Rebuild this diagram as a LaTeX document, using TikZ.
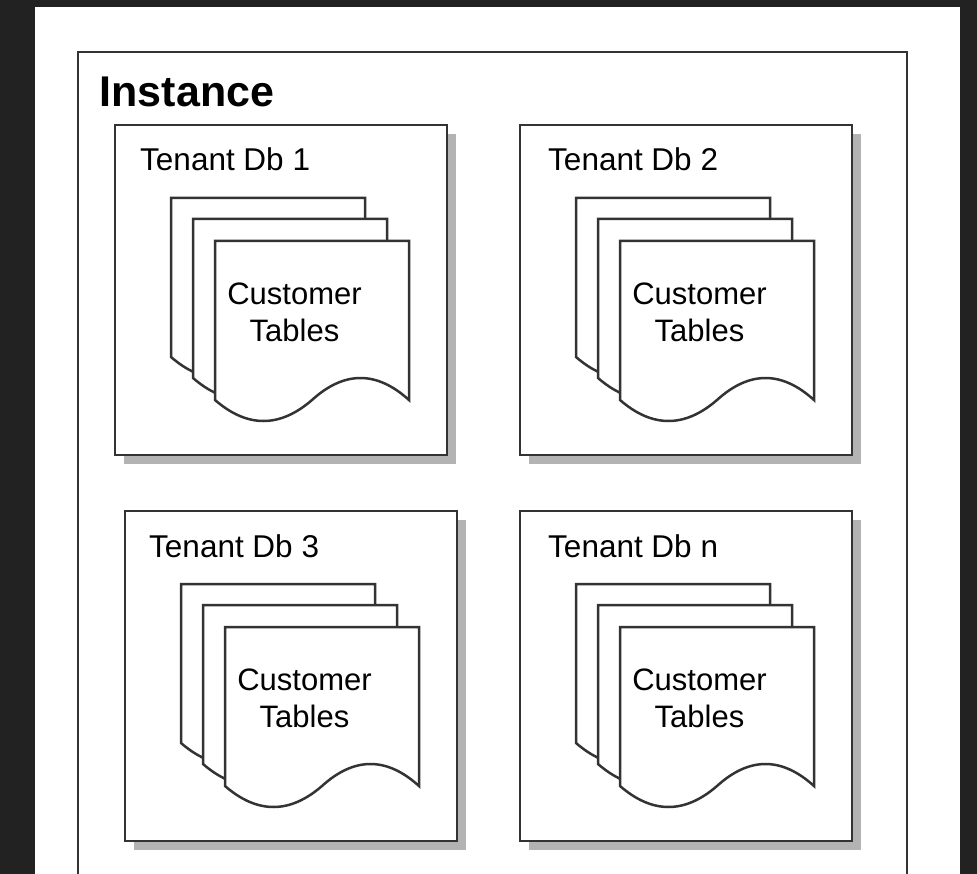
\documentclass[tikz,border=0pt]{standalone}
\usepackage{fontspec}
\setmainfont{Liberation Sans}
\usetikzlibrary{shadows}
\definecolor{bgdark}{HTML}{222222}
\definecolor{linec}{HTML}{333333}
\definecolor{shadowc}{HTML}{B3B3B3}
\tikzset{
  boxstyle/.style={draw=linec, line width=2.5pt, fill=white, rectangle, inner sep=0pt, outer sep=0pt, anchor=north west},
  tenantbox/.style={boxstyle, minimum width=332pt, minimum height=330pt,
    drop shadow={shadow xshift=9pt, shadow yshift=-9pt, fill=shadowc, opacity=1}},
  titletext/.style={font=\bfseries\fontsize{43}{50}\selectfont, anchor=base west, inner sep=0pt},
  tenantlabel/.style={font=\fontsize{31.5}{36}\selectfont, anchor=base west, inner sep=0pt},
  tabletext/.style={font=\fontsize{31}{37}\selectfont, align=center, anchor=north, inner sep=0pt},
  pagestyle/.style={draw=linec, fill=white, line width=2.5pt, line join=miter},
  pagepic/.pic={
    \draw[pagestyle] (0,0) -- (194,0) -- (194,159)
      .. controls (161.67,129.67) and (129.33,129.67) .. (97,159)
      .. controls (64.67,187) and (32.33,187) .. (0,159) -- cycle;
  },
  docstack/.pic={
    \pic at (-44,-43) {pagepic};
    \pic at (-22,-22) {pagepic};
    \pic at (0,0) {pagepic};
    \node[tabletext] (-label) at (79.5,42) {Customer\\Tables};
  }
}
\begin{document}
\begin{tikzpicture}[x=1pt,y=-1pt]
\clip (0,0) rectangle (977,874);
\fill[bgdark] (0,0) rectangle (977,874);
\fill[white] (35,7) rectangle (960,874);
\node[boxstyle, minimum width=829pt, minimum height=880pt] (inst) at (78,52) {};
\node[titletext] (insttitle) at (99.5,107) {Instance};
% tenant boxes
\node[tenantbox] (t1) at (115,125) {};
\node[tenantbox] (t2) at (520,125) {};
\node[tenantbox] (t3) at (125,511) {};
\node[tenantbox] (t4) at (520,511) {};
\node[tenantlabel] (t1label) at (140,171) {Tenant Db 1};
\node[tenantlabel] (t2label) at (548,171) {Tenant Db 2};
\node[tenantlabel] (t3label) at (149,557) {Tenant Db 3};
\node[tenantlabel] (t4label) at (548,557) {Tenant Db n};
% document stacks
\pic (d1) at (215,241) {docstack};
\pic (d2) at (620,241) {docstack};
\pic (d3) at (225,627) {docstack};
\pic (d4) at (620,627) {docstack};
\end{tikzpicture}
\end{document}
